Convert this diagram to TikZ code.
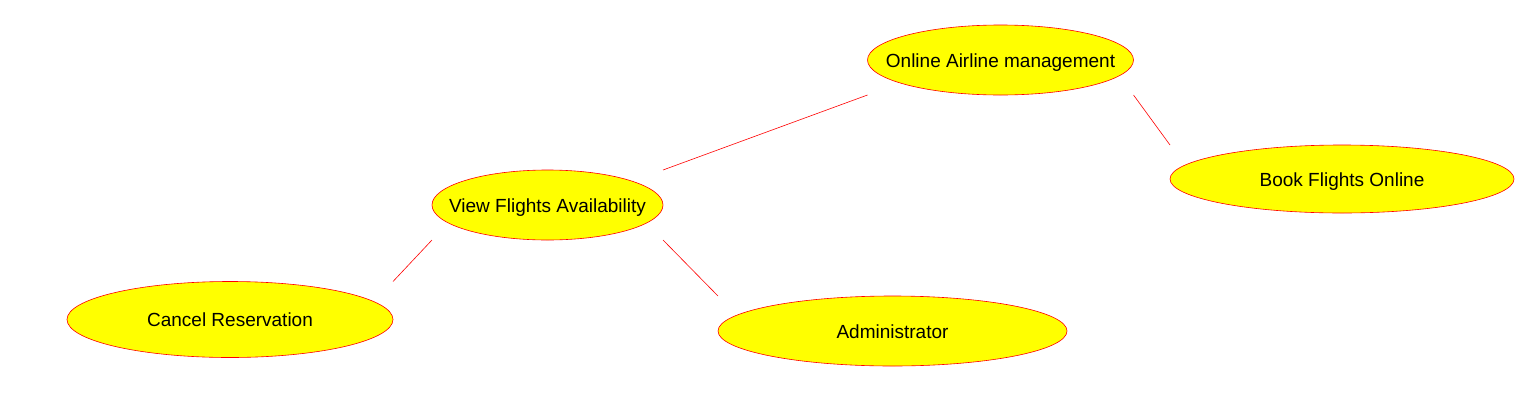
\documentclass[tikz,border=0pt]{standalone}
\usepackage{fontspec}
\setmainfont{Liberation Sans}
\usepackage{xcolor}
\usetikzlibrary{shapes.geometric,positioning,calc}

\definecolor{ucfill}{RGB}{255,255,0}
\definecolor{ucline}{RGB}{255,0,0}

\begin{document}
\begin{tikzpicture}[x=1pt, y=-1pt,
    usecase/.style={ellipse, draw=ucline, fill=ucfill, line width=0.6pt,
      inner sep=0pt, outer sep=0pt},
    uclabel/.style={font=\fontsize{19}{23}\selectfont, anchor=base, inner sep=0pt},
    link/.style={draw=ucline, line width=0.6pt}]
  \useasboundingbox (0,0) rectangle (1537,405);

  % Use cases
  \node[usecase, minimum width=266, minimum height=70] (oam) at (1000.5, 60) {};
  \node[usecase, minimum width=344, minimum height=68] (bfo) at (1342, 179) {};
  \node[usecase, minimum width=231, minimum height=70] (vfa) at (547.5, 205) {};
  \node[usecase, minimum width=326, minimum height=76] (cr) at (230, 319.5) {};
  \node[usecase, minimum width=349, minimum height=70] (adm) at (892.5, 331) {};

  % Labels
  \foreach \n/\t in {oam/Online Airline management, bfo/Book Flights Online,
      vfa/View Flights Availability, cr/Cancel Reservation, adm/Administrator}
    \node[uclabel] (\n-txt) at ([yshift=-7pt]\n.center) {\t};

  % Links between box corners
  \draw[link] (oam.south -| oam.west) -- (vfa.north -| vfa.east);
  \draw[link] (oam.south -| oam.east) -- (bfo.north -| bfo.west);
  \draw[link] (vfa.south -| vfa.west) -- (cr.north -| cr.east);
  \draw[link] (vfa.south -| vfa.east) -- (adm.north -| adm.west);
\end{tikzpicture}
\end{document}
